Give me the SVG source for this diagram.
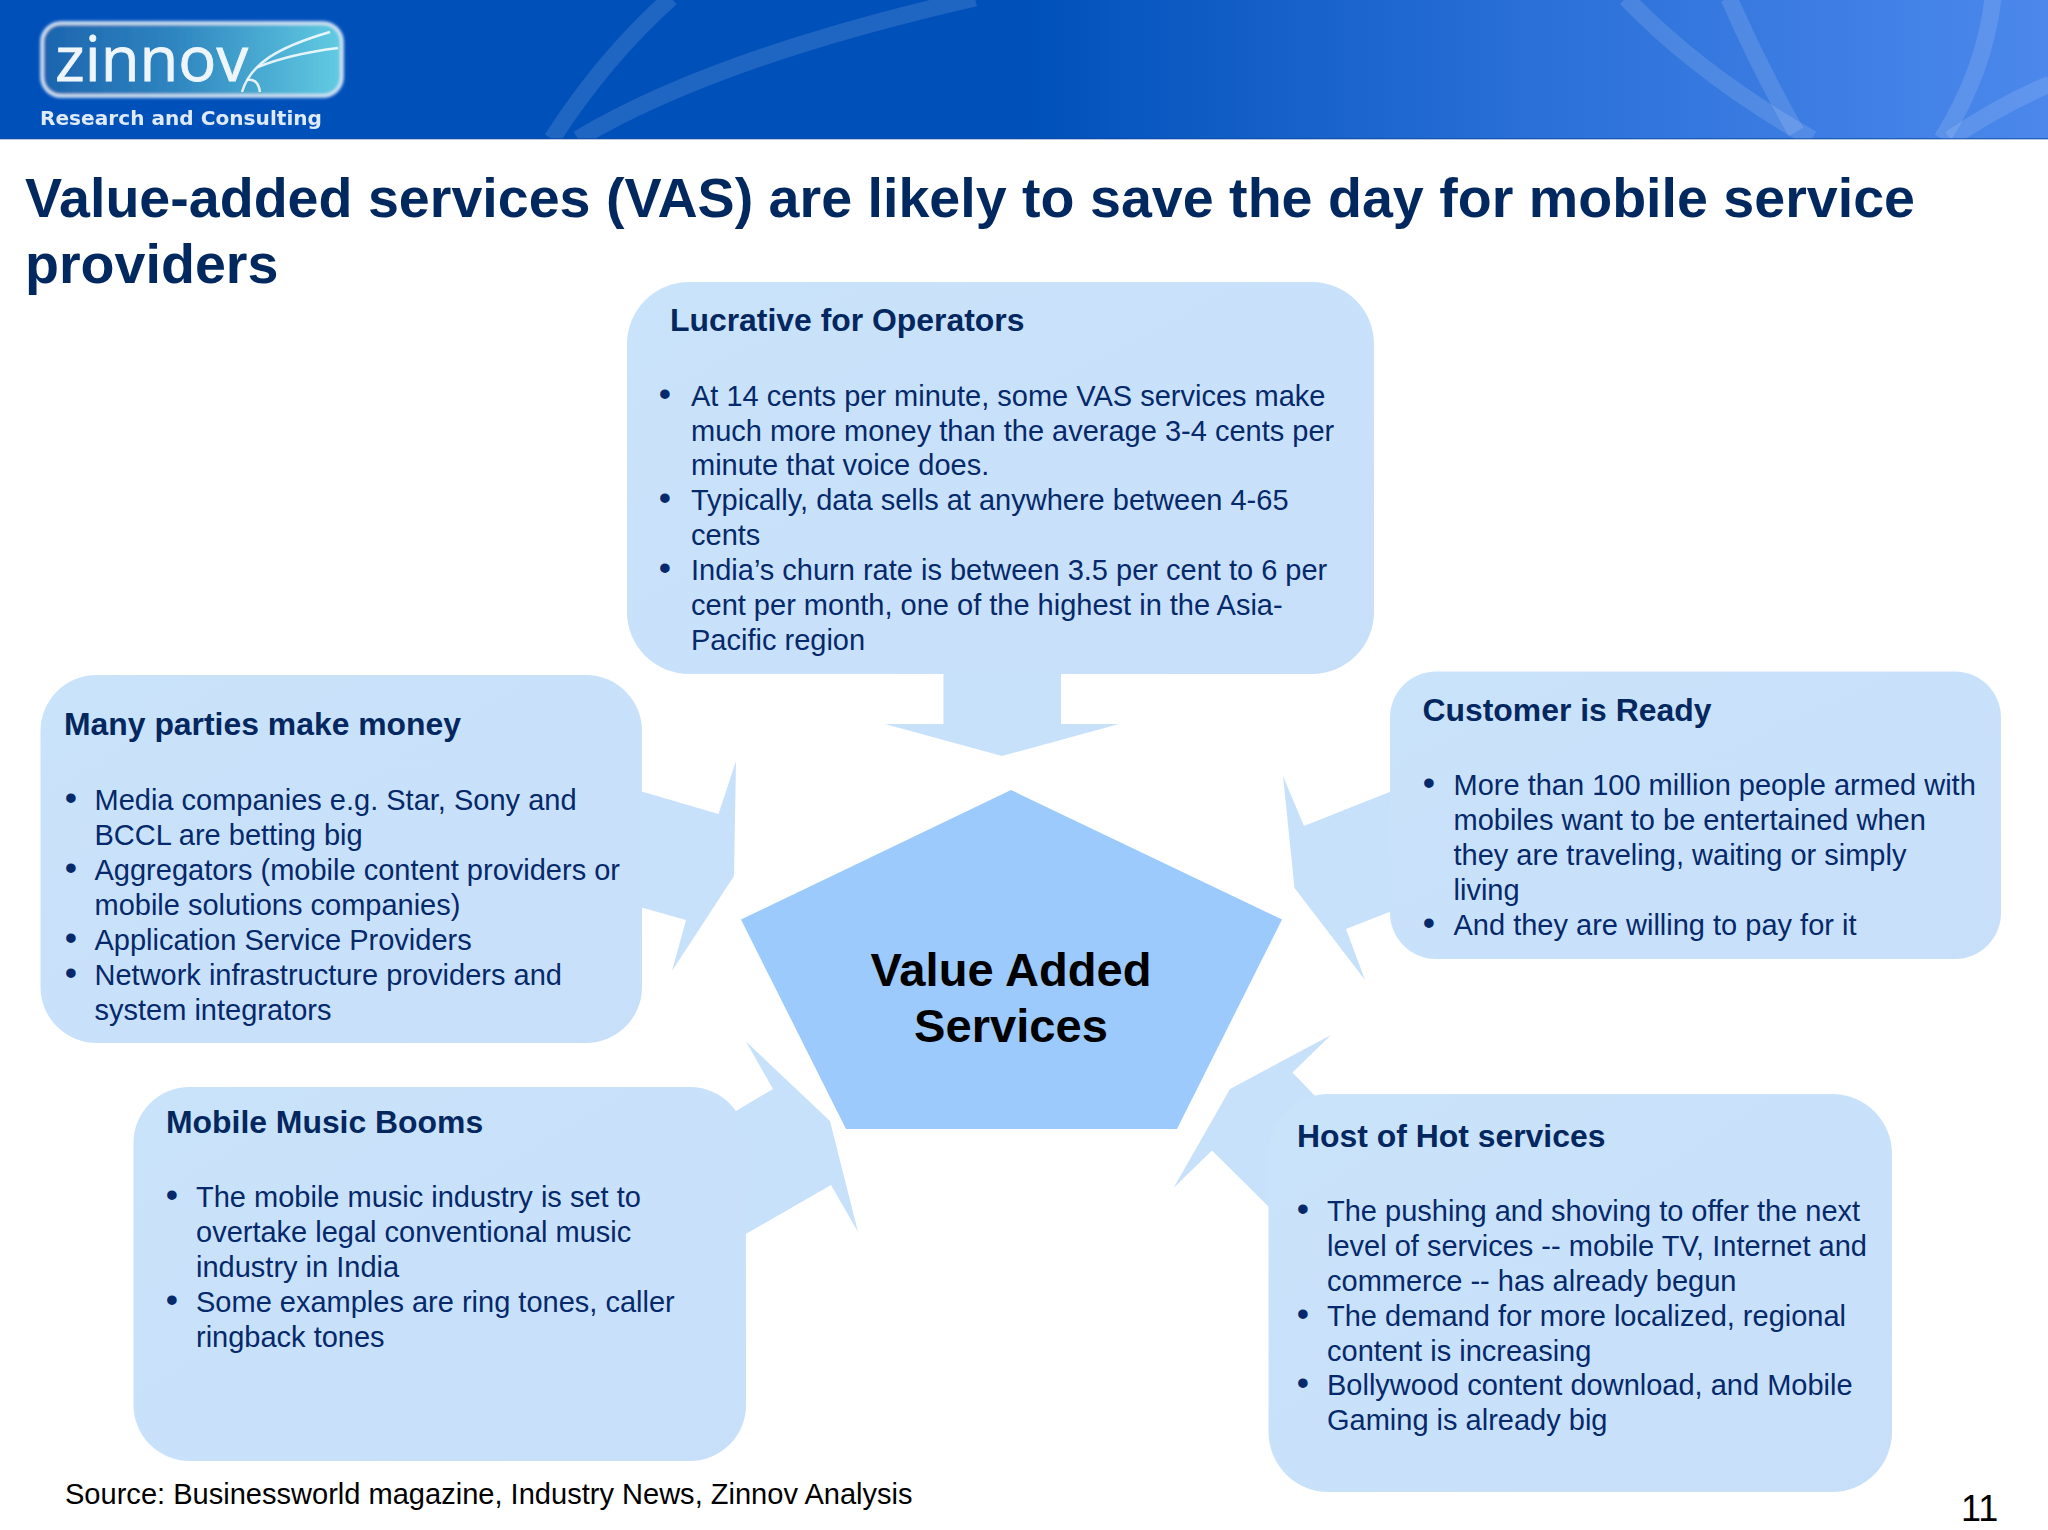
<svg xmlns="http://www.w3.org/2000/svg" width="2048" height="1530" viewBox="0 0 2048 1530">
<style>
text{font-family:"Liberation Sans",Arial,sans-serif}
.box{fill:url(#boxfill)}
.arrow{fill:#c8e1fa}
.h{font-weight:700;font-size:31.900px;fill:#03275e}
.b{font-size:29px;fill:#05296a}
.bl{font-size:35px;fill:#05296a;text-anchor:middle}
.sw{fill:none;stroke:#fff;stroke-opacity:.12;stroke-width:17}
.lg{fill:none;stroke:#fff;stroke-width:2.500;stroke-opacity:.85}
</style>
<defs>
<linearGradient id="hdr" x1="0" y1="0" x2="1" y2="0"><stop offset="0" stop-color="#0050ba"/><stop offset=".5" stop-color="#0050ba"/><stop offset=".75" stop-color="#2a70d8"/><stop offset="1" stop-color="#4c88ec"/></linearGradient>
<linearGradient id="logo" x1="0" y1="0" x2="1" y2="0"><stop offset="0" stop-color="#1c64ae"/><stop offset=".45" stop-color="#2f86c0"/><stop offset="1" stop-color="#62cbe2"/></linearGradient>
<linearGradient id="boxfill" x1="0" y1="0" x2="1" y2="1"><stop offset="0" stop-color="#c9e3fa"/><stop offset="1" stop-color="#c8dffa"/></linearGradient>
<filter id="soft" x="-10%" y="-20%" width="120%" height="140%"><feGaussianBlur stdDeviation="1.500"/></filter>
<filter id="tiny" x="-5%" y="-20%" width="110%" height="140%"><feGaussianBlur stdDeviation=".5"/></filter>
</defs>
<rect width="2048" height="1530" fill="#fff"/>
<g id="header">
<rect width="2048" height="139" fill="url(#hdr)"/>
<path class="sw" d="M552 139Q604 58 671 -2"/>
<path class="sw" d="M578 139Q713 58 975 -2"/>
<path class="sw" d="M1626 -2Q1700 75 1812 139"/>
<path class="sw" d="M1729 -2Q1758 65 1796 132"/>
<path class="sw" d="M1993 -2Q1985 70 1942 139"/>
<path class="sw" d="M2050 84Q2000 105 1950 139"/>
<rect y="138" width="2048" height="1.500" fill="#0a46a0" fill-opacity=".6"/>
</g>
<g id="logo-mark">
<rect x="42" y="23" width="300" height="73" rx="19" fill="url(#logo)" stroke="#dbe9f6" stroke-width="3.500" filter="url(#soft)"/>
<text x="55" y="81" font-size="63" style="font-family:'Open Sans','Noto Sans',sans-serif" fill="#eef6fc" stroke="#eef6fc" stroke-width=".8" textLength="193" lengthAdjust="spacingAndGlyphs" filter="url(#tiny)">zinnov</text>
<path class="lg" d="M242 92C250 65 275 48 330 32"/>
<path class="lg" d="M258 67Q290 54 338 48"/>
<path class="lg" d="M260 92Q258 78 247 80"/>
<text x="40" y="125" font-size="20" font-weight="700" style="font-family:'DejaVu Sans',sans-serif" fill="#dfeaf8" textLength="282" lengthAdjust="spacingAndGlyphs" filter="url(#tiny)">Research and Consulting</text>
</g>
<g id="title" font-weight="700" font-size="55.600" fill="#02295f">
<text x="25" y="216.500">Value-added services (VAS) are likely to save the day for mobile service</text>
<text x="25" y="283">providers</text>
</g>
<g id="connectors">
<polygon class="arrow" points="943.500,672 943.500,724 885,724 1002,756 1119,724 1061,724 1061,672"/>
<polygon class="arrow" points="640,791 718.500,814 736,761 734,876 672,971 686,920 640,907"/>
<polygon class="arrow" points="1392,791 1304,826 1283,776 1294.500,888 1365,980 1346,929 1392,911"/>
<polygon class="arrow" points="735,1111.600 773,1089 746,1041.500 830,1121 858,1232 831,1185 744,1235 700,1180"/>
<polygon class="arrow" points="1315,1096 1292.500,1072.500 1331,1035 1230,1089 1173.500,1188 1212,1150.600 1270,1208 1320,1160"/>
</g>
<g id="node-center">
<polygon points="1011,790 1282,919.500 1177,1129 846,1129 741,919.500" fill="#9ccafc"/>
<text x="1011" y="986" font-size="47.100" font-weight="700" text-anchor="middle" fill="#000">Value Added</text>
<text x="1011" y="1042" font-size="47.100" font-weight="700" text-anchor="middle" fill="#000">Services</text>
</g>
<g id="node-operators">
<rect class="box" x="627" y="282" width="747" height="392" rx="62"/>
<text class="h" x="670" y="331">Lucrative for Operators</text>
<text class="bl" x="665" y="405.500">•</text>
<text class="b" x="691" y="405.500">At 14 cents per minute, some VAS services make</text>
<text class="b" x="691" y="440.500">much more money than the average 3-4 cents per</text>
<text class="b" x="691" y="475">minute that voice does.</text>
<text class="bl" x="665" y="510">•</text>
<text class="b" x="691" y="510">Typically, data sells at anywhere between 4-65</text>
<text class="b" x="691" y="545">cents</text>
<text class="bl" x="665" y="580">•</text>
<text class="b" x="691" y="580">India’s churn rate is between 3.5 per cent to 6 per</text>
<text class="b" x="691" y="615">cent per month, one of the highest in the Asia-</text>
<text class="b" x="691" y="649.500">Pacific region</text>
</g>
<g id="node-parties">
<rect class="box" x="40.500" y="675" width="601.500" height="368" rx="56"/>
<text class="h" x="64" y="735">Many parties make money</text>
<text class="bl" x="71" y="810">•</text>
<text class="b" x="94.500" y="810">Media companies e.g. Star, Sony and</text>
<text class="b" x="94.500" y="845">BCCL are betting big</text>
<text class="bl" x="71" y="880">•</text>
<text class="b" x="94.500" y="880">Aggregators (mobile content providers or</text>
<text class="b" x="94.500" y="915">mobile solutions companies)</text>
<text class="bl" x="71" y="950">•</text>
<text class="b" x="94.500" y="950">Application Service Providers</text>
<text class="bl" x="71" y="985">•</text>
<text class="b" x="94.500" y="985">Network infrastructure providers and</text>
<text class="b" x="94.500" y="1020">system integrators</text>
</g>
<g id="node-ready">
<rect class="box" x="1390" y="671.500" width="611" height="287.500" rx="46"/>
<text class="h" x="1422.500" y="721">Customer is Ready</text>
<text class="bl" x="1429" y="795">•</text>
<text class="b" x="1453.500" y="795">More than 100 million people armed with</text>
<text class="b" x="1453.500" y="830">mobiles want to be entertained when</text>
<text class="b" x="1453.500" y="865">they are traveling, waiting or simply</text>
<text class="b" x="1453.500" y="900">living</text>
<text class="bl" x="1429" y="935">•</text>
<text class="b" x="1453.500" y="935">And they are willing to pay for it</text>
</g>
<g id="node-music">
<rect class="box" x="133.500" y="1087" width="612.500" height="374" rx="56"/>
<text class="h" x="166" y="1133">Mobile Music Booms</text>
<text class="bl" x="172" y="1207">•</text>
<text class="b" x="196" y="1207">The mobile music industry is set to</text>
<text class="b" x="196" y="1242">overtake legal conventional music</text>
<text class="b" x="196" y="1277">industry in India</text>
<text class="bl" x="172" y="1312">•</text>
<text class="b" x="196" y="1312">Some examples are ring tones, caller</text>
<text class="b" x="196" y="1347">ringback tones</text>
</g>
<g id="node-hot">
<rect class="box" x="1268.500" y="1094" width="623.500" height="398" rx="60"/>
<text class="h" x="1297" y="1146.500">Host of Hot services</text>
<text class="bl" x="1303" y="1221">•</text>
<text class="b" x="1327" y="1221">The pushing and shoving to offer the next</text>
<text class="b" x="1327" y="1256">level of services -- mobile TV, Internet and</text>
<text class="b" x="1327" y="1291">commerce -- has already begun</text>
<text class="bl" x="1303" y="1325.500">•</text>
<text class="b" x="1327" y="1325.500">The demand for more localized, regional</text>
<text class="b" x="1327" y="1360.500">content is increasing</text>
<text class="bl" x="1303" y="1395">•</text>
<text class="b" x="1327" y="1395">Bollywood content download, and Mobile</text>
<text class="b" x="1327" y="1430">Gaming is already big</text>
</g>
<g id="footer" fill="#000">
<text x="65" y="1504" font-size="29.050">Source: Businessworld magazine, Industry News, Zinnov Analysis</text>
<text x="1961" y="1521" font-size="36">11</text>
</g>
</svg>
